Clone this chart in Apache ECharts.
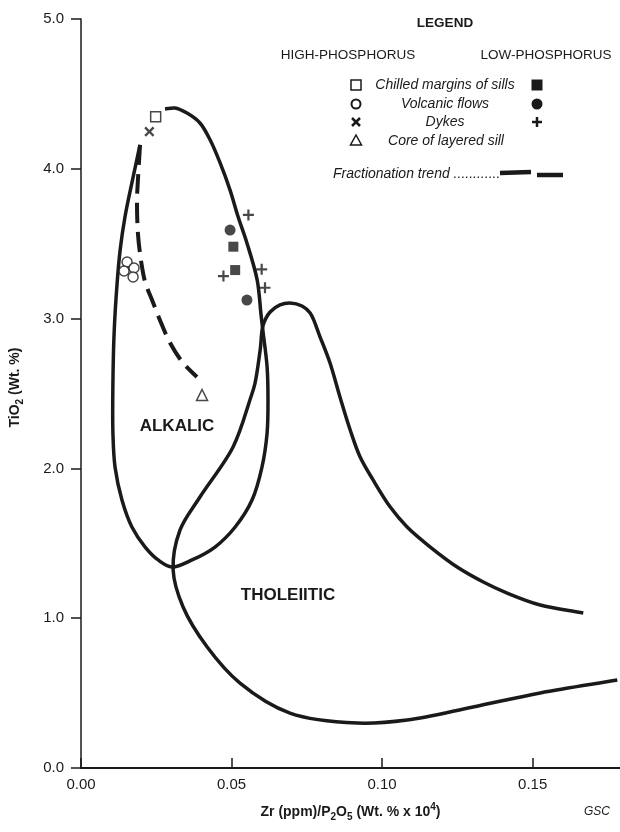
<!DOCTYPE html>
<html>
<head>
<meta charset="utf-8">
<script src="https://cdn.jsdelivr.net/npm/echarts@6/dist/echarts.min.js"></script>
<style>
html,body{margin:0;padding:0;background:#fff;}
#chart{width:620px;height:832px;}
</style>
</head>
<body>
<div id="chart"></div>
<script>
// ---- data (x = Zr/P2O5, y = TiO2) ----
const xTicks = [0, 0.05, 0.10, 0.15];
const yTicks = [0, 1, 2, 3, 4, 5];

const alkalicBoundary = [
  [0.0196,4.159],[0.0169,3.906],[0.0146,3.678],[0.0130,3.458],[0.0120,3.238],[0.0110,2.904],
  [0.0106,2.570],[0.0106,2.236],[0.0113,2.009],[0.0136,1.789],[0.0169,1.609],[0.0213,1.475],
  [0.0256,1.389],[0.0302,1.342],[0.0369,1.389],[0.0445,1.475],[0.0512,1.609],[0.0568,1.789],
  [0.0601,2.009],[0.0618,2.236],[0.0621,2.457],[0.0618,2.677],[0.0605,2.904],[0.0598,3.024],
  [0.0585,3.258],[0.0551,3.505],[0.0522,3.678],[0.0495,3.858],[0.0462,4.039],[0.0429,4.192],
  [0.0395,4.306],[0.0352,4.372],[0.0312,4.406],[0.0279,4.399]
];

const tholeiiticBoundary = [
  [0.1781,0.587],[0.1525,0.501],[0.1302,0.407],[0.1083,0.320],[0.0917,0.300],[0.0694,0.367],
  [0.0528,0.567],[0.0419,0.808],[0.0339,1.075],[0.0306,1.322],[0.0329,1.589],[0.0395,1.809],
  [0.0505,2.143],[0.0561,2.457],[0.0578,2.570],[0.0595,2.790],[0.0605,2.957],[0.0628,3.044],
  [0.0661,3.091],[0.0694,3.104],[0.0734,3.084],[0.0761,3.037],[0.0794,2.877],[0.0827,2.704],
  [0.0860,2.477],[0.0894,2.256],[0.0927,2.076],[0.0970,1.923],[0.1027,1.742],[0.1083,1.609],
  [0.1160,1.475],[0.1249,1.342],[0.1336,1.242],[0.1415,1.168],[0.1525,1.088],[0.1668,1.035]
];

const fractionationTrend = [
  [0.0196,4.159],[0.0189,3.925],[0.0186,3.792],[0.0189,3.571],[0.0199,3.391],[0.0213,3.244],
  [0.0236,3.124],[0.0262,2.991],[0.0296,2.837],[0.0339,2.704],[0.0385,2.610]
];

// High-phosphorus (open symbols)
const chilledHigh  = [[0.0248,4.348]];
const volcanicHigh = [[0.0153,3.378],[0.0143,3.318],[0.0176,3.338],[0.0173,3.278]];
const dykesHigh    = [[0.0227,4.248]];
const coreHigh     = [[0.0402,2.490]];
// Low-phosphorus (filled symbols)
const chilledLow   = [[0.0506,3.480],[0.0512,3.324]];
const volcanicLow  = [[0.0495,3.591],[0.0551,3.124]];
const dykesLow     = [[0.0556,3.692],[0.0473,3.284],[0.0600,3.329],[0.0611,3.206]];

// ---- chart ----
const INK = '#1a1a1a';
const FONT = '"Liberation Sans", Arial, Helvetica, sans-serif';
const PLUS = 'path://M4,0H6V4H10V6H6V10H4V6H0V4H4Z';

const chart = echarts.init(document.getElementById('chart'), null, {renderer:'canvas'});

// centripetal Catmull-Rom through pixel points -> cubic bezier path
function splinePath(p){
  const n = p.length;
  let d = 'M' + p[0][0] + ',' + p[0][1];
  const dist = (a, b) => Math.pow(Math.hypot(b[0]-a[0], b[1]-a[1]), 0.5) || 1e-6;
  for (let i = 0; i < n - 1; i++){
    const p0 = p[Math.max(0, i-1)], p1 = p[i], p2 = p[i+1], p3 = p[Math.min(n-1, i+2)];
    let d1 = dist(p0, p1), d2 = dist(p1, p2), d3 = dist(p2, p3);
    if (i === 0) d1 = d2;
    if (i === n - 2) d3 = d2;
    const q0 = i === 0 ? [2*p1[0]-p2[0], 2*p1[1]-p2[1]] : p0;
    const q3 = i === n - 2 ? [2*p2[0]-p1[0], 2*p2[1]-p1[1]] : p3;
    const c1 = [0,1].map(k => (d1*d1*p2[k] - d2*d2*q0[k] + (2*d1*d1 + 3*d1*d2 + d2*d2)*p1[k]) / (3*d1*(d1+d2)));
    const c2 = [0,1].map(k => (d3*d3*p1[k] - d2*d2*q3[k] + (2*d3*d3 + 3*d3*d2 + d2*d2)*p2[k]) / (3*d3*(d3+d2)));
    d += 'C' + c1[0] + ',' + c1[1] + ' ' + c2[0] + ',' + c2[1] + ' ' + p2[0] + ',' + p2[1];
  }
  return d;
}

function curve(name, data, width, dash){
  return {
    name, type:'custom', coordinateSystem:'cartesian2d', data, z:2, silent:true, animation:false,
    encode:{x:0, y:1},
    renderItem(params, api){
      if (params.dataIndex !== 0) return null;
      const px = data.map(v => api.coord(v));
      return {
        type:'path',
        shape:{pathData: splinePath(px)},
        style:{fill:'none', stroke:INK, lineWidth:width, lineDash: dash || null, lineCap:'butt', lineJoin:'round'}
      };
    }
  };
}
function pts(name, data, symbol, size, filled, rotate){
  return {
    name, type:'scatter', data, symbol, symbolSize:size, symbolRotate: rotate || 0, z:5,
    itemStyle: filled ? {color:INK, borderWidth:0}
                      : {color:'#fff', borderColor:INK, borderWidth:1.5},
    animation:false
  };
}

const legendX1 = 356, legendX2 = 537, legendC = 445;
const txt = (x, y, text, font) => ({
  type:'text', x, y, silent:true,
  style:{text, font, fill:INK, align:'center', verticalAlign:'middle', textAlign:'center', textVerticalAlign:'middle'}
});
const ital = 'italic 14px ' + FONT;

const option = {
  backgroundColor:'#fff',
  animation:false,
  grid:{left:81, right:0, top:19, bottom:64, containLabel:false, outerBoundsMode:'none'},
  xAxis:{
    type:'value', min:0, max:0.179, interval:0.05,
    axisLine:{show:true, onZero:false, lineStyle:{color:INK, width:2}},
    axisTick:{show:true, inside:true, length:10, lineStyle:{color:INK, width:1.5}},
    axisLabel:{color:INK, fontSize:15, fontFamily:FONT, margin:9, showMaxLabel:false,
      formatter:v => xTicks.includes(Math.round(v*100)/100) ? v.toFixed(2) : ''},
    splitLine:{show:false},
    name:'Zr (ppm)/P{sub|2}O{sub|5} (Wt. % x 10{sup|4})',
    nameLocation:'middle', nameGap:34,
    nameTextStyle:{color:INK, fontSize:14, fontWeight:'bold', fontFamily:FONT, lineHeight:20,
      rich:{
        sub:{fontSize:10, fontWeight:'bold', fontFamily:FONT, color:INK, verticalAlign:'bottom', lineHeight:20},
        sup:{fontSize:10, fontWeight:'bold', fontFamily:FONT, color:INK, verticalAlign:'top', lineHeight:20}
      }}
  },
  yAxis:{
    type:'value', min:0, max:5, interval:1,
    axisLine:{show:true, onZero:false, lineStyle:{color:INK, width:1.5}},
    axisTick:{show:true, inside:false, length:10, lineStyle:{color:INK, width:1.5}},
    axisLabel:{color:INK, fontSize:15, fontFamily:FONT, margin:17,
      formatter:v => yTicks.includes(Math.round(v)) ? v.toFixed(1) : ''},
    splitLine:{show:false},
    name:'TiO{sub|2} (Wt. %)',
    nameLocation:'middle', nameGap:56,
    nameTextStyle:{color:INK, fontSize:14, fontWeight:'bold', fontFamily:FONT, lineHeight:20,
      padding:[0, 0, 0, 12],
      rich:{
        sub:{fontSize:10, fontWeight:'bold', fontFamily:FONT, color:INK, verticalAlign:'bottom', lineHeight:20}
      }}
  },
  series:[
    curve('Alkalic boundary', alkalicBoundary, 3.5),
    curve('Tholeiitic boundary', tholeiiticBoundary, 3.5),
    curve('Fractionation trend', fractionationTrend, 4, [20, 9]),
    pts('Chilled margins of sills (high-P)', chilledHigh, 'rect', 10, false),
    pts('Volcanic flows (high-P)', volcanicHigh, 'circle', 10, false),
    pts('Dykes (high-P)', dykesHigh, PLUS, 12, true, 45),
    pts('Core of layered sill (high-P)', coreHigh, 'triangle', 11, false),
    pts('Chilled margins of sills (low-P)', chilledLow, 'rect', 10, true),
    pts('Volcanic flows (low-P)', volcanicLow, 'circle', 11, true),
    pts('Dykes (low-P)', dykesLow, PLUS, 11, true)
  ],
  graphic:[
    txt(legendC, 23, 'LEGEND', 'bold 13.5px ' + FONT),
    txt(348, 55, 'HIGH-PHOSPHORUS', '13.5px ' + FONT),
    txt(546, 55, 'LOW-PHOSPHORUS', '13.5px ' + FONT),
    txt(445, 85, 'Chilled margins of sills', ital),
    txt(445, 104, 'Volcanic flows', ital),
    txt(445, 122, 'Dykes', ital),
    txt(446, 141, 'Core of layered sill', ital),
    {type:'text', x:333, y:174, silent:true,
      style:{text:'Fractionation trend ............', font:ital, fill:INK, align:'left', verticalAlign:'middle', textAlign:'left', textVerticalAlign:'middle'}},
    {type:'line', silent:true, shape:{x1:500, y1:173, x2:531, y2:172}, style:{stroke:INK, lineWidth:4.5}},
    {type:'line', silent:true, shape:{x1:537, y1:175, x2:563, y2:175}, style:{stroke:INK, lineWidth:4.5}},
    // legend symbols
    {type:'rect', silent:true, shape:{x:legendX1-5, y:80, width:10, height:10}, style:{fill:'#fff', stroke:INK, lineWidth:1.5}},
    {type:'rect', silent:true, shape:{x:legendX2-5.5, y:79.5, width:11, height:11}, style:{fill:INK}},
    {type:'circle', silent:true, shape:{cx:legendX1, cy:104, r:4.5}, style:{fill:'#fff', stroke:INK, lineWidth:2}},
    {type:'circle', silent:true, shape:{cx:legendX2, cy:104, r:5.5}, style:{fill:INK}},
    {type:'line', silent:true, shape:{x1:legendX1-4, y1:118, x2:legendX1+4, y2:126}, style:{stroke:INK, lineWidth:2.5}},
    {type:'line', silent:true, shape:{x1:legendX1+4, y1:118, x2:legendX1-4, y2:126}, style:{stroke:INK, lineWidth:2.5}},
    {type:'line', silent:true, shape:{x1:legendX2-5, y1:122, x2:legendX2+5, y2:122}, style:{stroke:INK, lineWidth:2.5}},
    {type:'line', silent:true, shape:{x1:legendX2, y1:117, x2:legendX2, y2:127}, style:{stroke:INK, lineWidth:2.5}},
    {type:'polygon', silent:true, shape:{points:[[legendX1, 135],[legendX1+5.5, 145],[legendX1-5.5, 145]]}, style:{fill:'#fff', stroke:INK, lineWidth:1.5}},
    // field labels
    txt(177, 426, 'ALKALIC', 'bold 17px ' + FONT),
    txt(288, 595, 'THOLEIITIC', 'bold 17px ' + FONT),
    txt(597, 812, 'GSC', 'italic 12px ' + FONT)
  ]
};
chart.setOption(option);
</script>
</body>
</html>
